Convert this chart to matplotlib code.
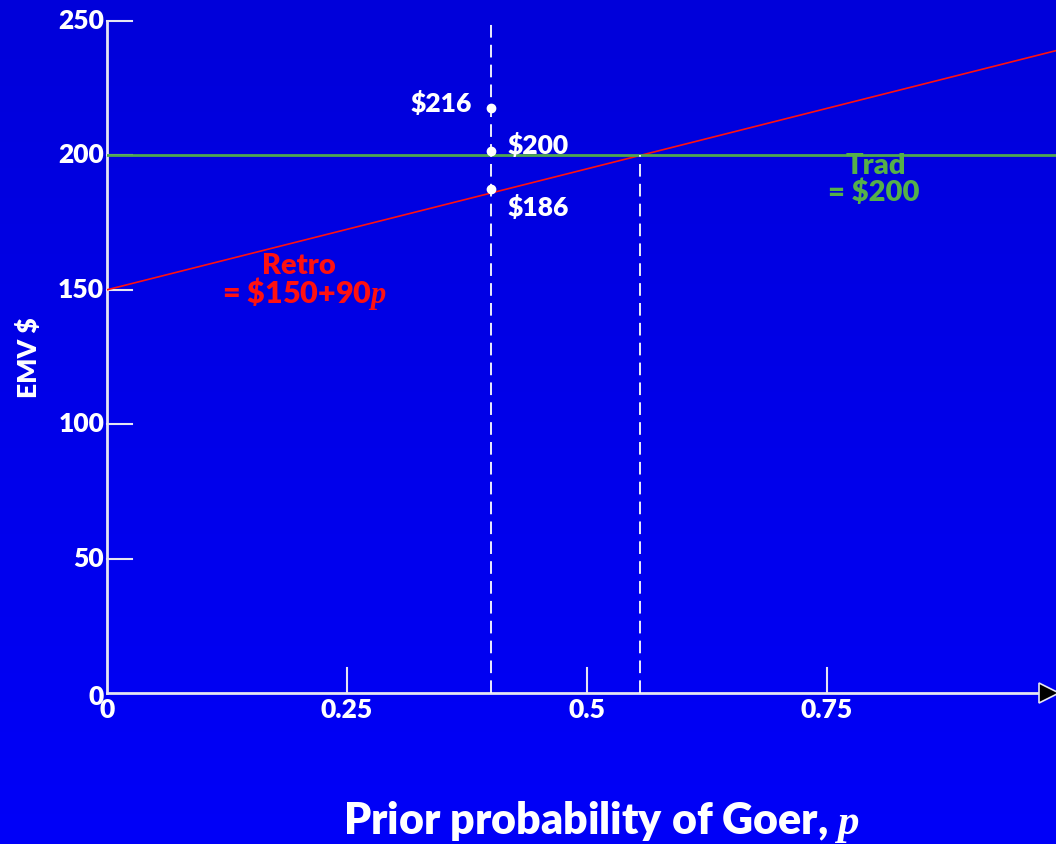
import numpy as np
import matplotlib
matplotlib.use("Agg")
from matplotlib import pyplot as plt
from matplotlib import transforms
from matplotlib.colors import LinearSegmentedColormap

plt.rcParams['font.family'] = ['Lato', 'DejaVu Sans']
plt.rcParams['font.weight'] = 'heavy'
plt.rcParams['mathtext.fontset'] = 'custom'
plt.rcParams['mathtext.it'] = 'Liberation Serif:italic:bold'
plt.rcParams['mathtext.rm'] = 'Lato:heavy'

# data
retro_base = 150
retro_slope = 90
trad_value = 200
p_point = 0.4
point_values = [216, 200, 186]
point_labels = ['$216', '$200', '$186']
xticks = [0, 0.25, 0.5, 0.75]
xtick_labels = ['0', '0.25', '0.5', '0.75']
yticks = [0, 50, 100, 150, 200, 250]
p_break = (trad_value - retro_base) / retro_slope

W, H = 1056, 844
fig = plt.figure(figsize=(W / 100, H / 100), dpi=100)

# background gradient
bg = fig.add_axes([0, 0, 1, 1], zorder=-10)
grad = np.linspace(0, 1, 256).reshape(-1, 1)
cmap = LinearSegmentedColormap.from_list('bg', ['#0000DA', '#0000F8'])
bg.imshow(grad, aspect='auto', cmap=cmap, extent=[0, 1, 0, 1], origin='upper')
bg.axis('off')

x0, y0, ytop = 107, 693, 21
px_per_p = 960
xmax = (W - x0) / px_per_p
ax = fig.add_axes([x0 / W, (H - y0) / H, (W - x0) / W, (y0 - ytop) / H])
ax.patch.set_alpha(0)
ax.set_xlim(0, xmax)
ax.set_ylim(0, 250)
for s in ax.spines.values():
    s.set_visible(False)
ax.set_xticks([])
ax.set_yticks([])

axis_col = '#E6E6F2'
# axes lines
ax.plot([0, (1042 - x0) / px_per_p], [0, 0], color=axis_col, lw=2, clip_on=False)
ax.plot([0, 0], [0, 250], color=axis_col, lw=2, clip_on=False)
ax.plot([(1049 - x0) / px_per_p], [0], marker='>', ms=15, color='black',
        mec=axis_col, mew=1.2, clip_on=False, zorder=5)

# ticks
for t in yticks[1:]:
    ax.plot([0, 25 / px_per_p], [t, t], color=axis_col, lw=1.5, clip_on=False)
for t in xticks[1:]:
    ax.plot([t, t], [0, 25 * 250 / (y0 - ytop)], color=axis_col, lw=1.5, clip_on=False)

for t in yticks:
    ax.text(-0.003, t, str(t), ha='right', va='center', color='white', fontsize=19,
            transform=transforms.offset_copy(ax.transData, fig, x=0, y=0 if t else -3, units='points'))
for t, lab in zip(xticks, xtick_labels):
    ax.text(t, -6.5, lab, ha='center', va='center', color='white', fontsize=19)

# lines
pp = np.array([0, xmax])
ax.plot(pp, retro_base + retro_slope * pp, color='#FF1010', lw=1.2)
ax.axhline(trad_value, color='#50A850', lw=2)
ax.plot([p_point, p_point], [0, 250], color='white', lw=1.3, ls=(0, (7, 4)))
ax.plot([p_break, p_break], [0, trad_value], color='white', lw=1.3, ls=(0, (7, 4)))

# points
off = transforms.offset_copy(ax.transData, fig, x=0, y=3, units='points')
ax.plot([p_point] * 3, point_values, 'o', color='white', ms=6, transform=off, zorder=6)
ax.text(p_point - 0.02, point_values[0] + 3.3, point_labels[0], ha='right', va='center',
        color='white', fontsize=19)
ax.text(p_point + 0.017, point_values[1] + 3.8, point_labels[1], ha='left', va='center',
        color='white', fontsize=19)
ax.text(p_point + 0.017, point_values[2] - 5.5, point_labels[2], ha='left', va='center',
        color='white', fontsize=19)

# annotations
ax.text((299 - x0) / px_per_p, 158.8, 'Retro', ha='center', va='center', color='#FF1010', fontsize=21)
ax.text((304 - x0) / px_per_p, 148.6, r'= \$150+90$p$', ha='center', va='center',
        color='#FF1010', fontsize=22)
ax.text((876 - x0) / px_per_p, 196, 'Trad', ha='center', va='center', color='#55B04A', fontsize=21)
ax.text((874 - x0) / px_per_p, 186, r'= \$200', ha='center', va='center', color='#55B04A', fontsize=21)

fig.text(28 / W, 1 - 358 / H, 'EMV $', rotation=90, ha='center', va='center',
         color='white', fontsize=19)
fig.text(601 / W, 1 - 822 / H, r'Prior probability of Goer, $p$', ha='center', va='center',
         color='white', fontsize=31)

fig.savefig('out.png', dpi=100)
